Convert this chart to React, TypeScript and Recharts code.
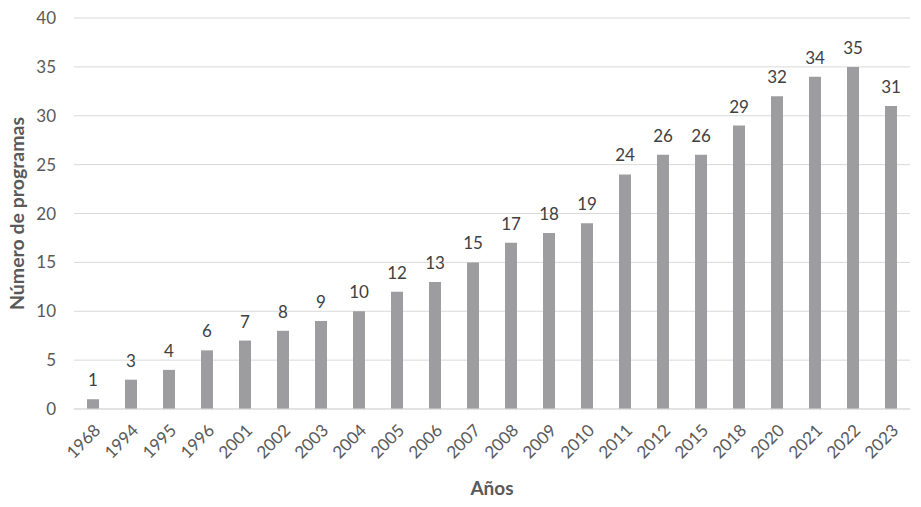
import { BarChart, Bar, XAxis, YAxis, CartesianGrid, LabelList, Label } from "recharts";

const years = ["1968", "1994", "1995", "1996", "2001", "2002", "2003", "2004", "2005", "2006", "2007", "2008", "2009", "2010", "2011", "2012", "2015", "2018", "2020", "2021", "2022", "2023"];
const programs = [1, 3, 4, 6, 7, 8, 9, 10, 12, 13, 15, 17, 18, 19, 24, 26, 26, 29, 32, 34, 35, 31];
const yTicks = [0, 5, 10, 15, 20, 25, 30, 35, 40];

const data = years.map((year, i) => ({ year, programs: programs[i] }));

const font = "Lato, 'Open Sans', sans-serif";

export default function App() {
  return (
    <div style={{ position: "absolute", left: 0, top: 0, fontFamily: font }}>
      <BarChart width={921} height={507} data={data} margin={{ top: 18, right: 11, bottom: 0, left: 0 }}>
        <CartesianGrid vertical={false} stroke="#d9d9d9" />
        <XAxis
          dataKey="year"
          height={98}
          interval={0}
          angle={-45}
          textAnchor="end"
          stroke="#d9d9d9"
          tickLine={false}
          tickMargin={8}
          tick={{ fill: "#595959", fontSize: 17, fontFamily: font }}
        >
          <Label
            value="Años"
            position="insideBottom"
            offset={12}
            style={{ fill: "#595959", fontSize: 19, fontWeight: 700, fontFamily: font }}
          />
        </XAxis>
        <YAxis
          width={74}
          domain={[0, 40]}
          ticks={yTicks}
          axisLine={false}
          tickLine={false}
          tickSize={0}
          tickMargin={18}
          tick={{ fill: "#595959", fontSize: 17, fontFamily: font }}
        >
          <Label
            content={({ viewBox }: any) => {
              const cy = viewBox.y + viewBox.height / 2;
              return (
                <text
                  x={24}
                  y={cy}
                  transform={`rotate(-90, 24, ${cy})`}
                  textAnchor="middle"
                  fill="#595959"
                  fontSize={19.5}
                  fontWeight={700}
                  fontFamily={font}
                >
                  Número de programas
                </text>
              );
            }}
          />
        </YAxis>
        <Bar dataKey="programs" fill="#9d9da0" barSize={12} isAnimationActive={false}>
          <LabelList
            dataKey="programs"
            position="top"
            offset={13}
            style={{ fill: "#404040", fontSize: 17, fontFamily: font }}
          />
        </Bar>
      </BarChart>
    </div>
  );
}
